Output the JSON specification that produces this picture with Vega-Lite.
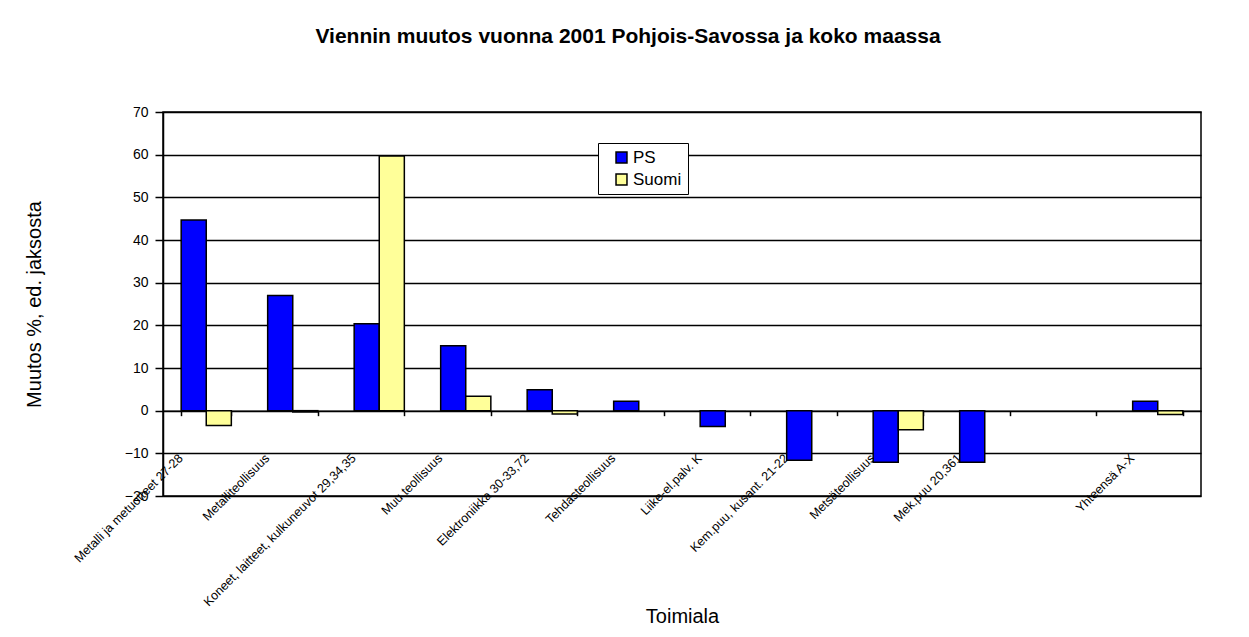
{
  "$schema": "https://vega.github.io/schema/vega-lite/v6.json",
  "width": 1038,
  "height": 384,
  "autosize": {"type": "none"},
  "padding": {"left": 163, "top": 112, "right": 48, "bottom": 141},
  "background": "white",
  "title": {
    "text": "Viennin muutos vuonna 2001 Pohjois-Savossa ja koko maassa",
    "fontSize": 21,
    "font": "Liberation Sans",
    "fontWeight": "bold",
    "color": "black",
    "anchor": "middle",
    "dx": -54,
    "offset": 58
  },
  "data": {
    "values": [
      {"Toimiala": "Metalli ja metuotteet 27-28", "Alue": "PS", "Muutos": 44.7},
      {"Toimiala": "Metalli ja metuotteet 27-28", "Alue": "Suomi", "Muutos": -3.5},
      {"Toimiala": "Metalliteollisuus", "Alue": "PS", "Muutos": 27.0},
      {"Toimiala": "Metalliteollisuus", "Alue": "Suomi", "Muutos": -0.3},
      {"Toimiala": "Koneet, laitteet, kulkuneuvot 29,34,35", "Alue": "PS", "Muutos": 20.4},
      {"Toimiala": "Koneet, laitteet, kulkuneuvot 29,34,35", "Alue": "Suomi", "Muutos": 59.7},
      {"Toimiala": "Muu teollisuus", "Alue": "PS", "Muutos": 15.2},
      {"Toimiala": "Muu teollisuus", "Alue": "Suomi", "Muutos": 3.4},
      {"Toimiala": "Elektroniikka 30-33,72", "Alue": "PS", "Muutos": 4.9},
      {"Toimiala": "Elektroniikka 30-33,72", "Alue": "Suomi", "Muutos": -0.8},
      {"Toimiala": "Tehdasteollisuus", "Alue": "PS", "Muutos": 2.2},
      {"Toimiala": "Liike-el.palv. K", "Alue": "PS", "Muutos": -3.7},
      {"Toimiala": "Kem.puu, kusant. 21-22", "Alue": "PS", "Muutos": -11.6},
      {"Toimiala": "Metsäteollisuus", "Alue": "PS", "Muutos": -12.1},
      {"Toimiala": "Metsäteollisuus", "Alue": "Suomi", "Muutos": -4.5},
      {"Toimiala": "Mek.puu 20,361", "Alue": "PS", "Muutos": -12.1},
      {"Toimiala": "Yhteensä A-X", "Alue": "PS", "Muutos": 2.2},
      {"Toimiala": "Yhteensä A-X", "Alue": "Suomi", "Muutos": -0.9}
    ]
  },
  "mark": {"type": "bar", "stroke": "black", "strokeWidth": 1.5},
  "encoding": {
    "x": {
      "field": "Toimiala",
      "type": "nominal",
      "sort": null,
      "scale": {
        "domain": ["Metalli ja metuotteet 27-28", "Metalliteollisuus", "Koneet, laitteet, kulkuneuvot 29,34,35", "Muu teollisuus", "Elektroniikka 30-33,72", "Tehdasteollisuus", "Liike-el.palv. K", "Kem.puu, kusant. 21-22", "Metsäteollisuus", "Mek.puu 20,361", " ", "Yhteensä A-X"],
        "paddingInner": 0.42,
        "paddingOuter": 0.21
      },
      "axis": {
        "offset": -85.33,
        "domainColor": "black",
        "domainWidth": 1.5,
        "tickBand": "extent",
        "tickColor": "black",
        "tickWidth": 1.5,
        "tickSize": 5,
        "labelAngle": -45,
        "labelAlign": "right",
        "labelBaseline": "middle",
        "labelFont": "Liberation Sans",
        "labelFontSize": 12.5,
        "labelColor": "black",
        "labelPadding": 40,
        "labelOffset": -26,
        "labelOverlap": false,
        "labelLimit": 400,
        "labelBound": false,
        "title": "Toimiala",
        "titleFont": "Liberation Sans",
        "titleFontSize": 20,
        "titleFontWeight": "normal",
        "titleColor": "black",
        "titleX": 519,
        "titleY": 212,
        "titleBaseline": "alphabetic",
        "titleAlign": "center"
      }
    },
    "xOffset": {
      "field": "Alue",
      "type": "nominal",
      "scale": {"domain": ["PS", "Suomi"], "paddingInner": 0, "paddingOuter": 0}
    },
    "y": {
      "field": "Muutos",
      "type": "quantitative",
      "scale": {"domain": [-20, 70], "nice": false, "zero": true},
      "axis": {
        "values": [-20, -10, 0, 10, 20, 30, 40, 50, 60, 70],
        "domainColor": "black",
        "domainWidth": 1.5,
        "tickColor": "black",
        "tickWidth": 1.5,
        "tickSize": 8,
        "labelFont": "Liberation Sans",
        "labelFontSize": 14,
        "labelColor": "black",
        "labelPadding": 7,
        "grid": true,
        "gridColor": "black",
        "gridWidth": 1.5,
        "gridOpacity": 1,
        "title": "Muutos %, ed. jaksosta",
        "titleFont": "Liberation Sans",
        "titleFontSize": 20,
        "titleFontWeight": "normal",
        "titleColor": "black",
        "titleX": -129,
        "titleY": 192,
        "titleAngle": -90,
        "titleAlign": "center",
        "titleBaseline": "middle"
      }
    },
    "color": {
      "field": "Alue",
      "type": "nominal",
      "scale": {"domain": ["PS", "Suomi"], "range": ["#0000FF", "#FFFF99"]},
      "legend": {
        "orient": "none",
        "legendX": 435,
        "legendY": 31,
        "title": null,
        "strokeColor": "black",
        "fillColor": "white",
        "padding": 6,
        "rowPadding": 4,
        "symbolType": "square",
        "symbolSize": 120,
        "symbolStrokeColor": "black",
        "symbolStrokeWidth": 1.5,
        "symbolOpacity": 1,
        "symbolOffset": 9,
        "labelFont": "Liberation Sans",
        "labelFontSize": 17,
        "labelColor": "black",
        "labelOffset": 3
      }
    }
  },
  "config": {
    "view": {"stroke": "black", "strokeWidth": 1.5},
    "font": "Liberation Sans"
  }
}
